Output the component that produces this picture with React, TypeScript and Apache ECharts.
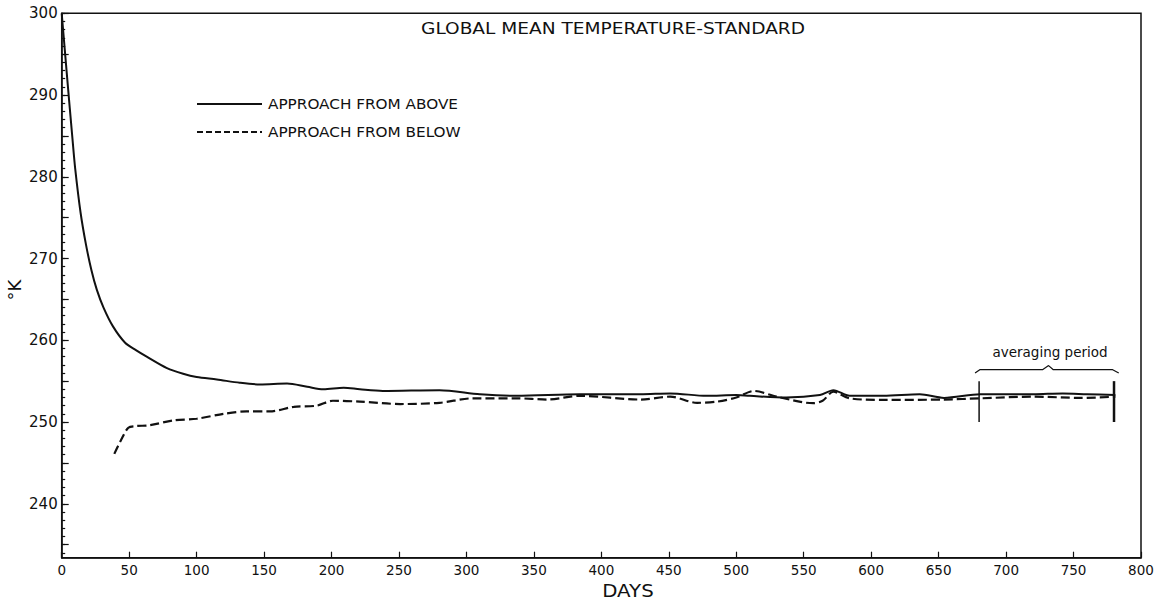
import React, { useEffect, useRef } from "react";
import * as echarts from "echarts";

// Approach from above (solid)
const aboveDays = [0, 4, 8, 10, 14, 18, 22, 26, 31, 38, 47, 55, 63, 78, 90, 100, 115, 132, 147, 167, 182, 194, 209, 221, 238, 280, 310, 337, 384, 429, 451, 478, 500, 510, 537, 562, 572, 584, 609, 636, 654, 681, 720, 742, 760, 781];
const aboveTemps = [300, 292.2, 284.6, 281, 275.6, 271.7, 268.6, 266.2, 264.0, 261.7, 259.7, 258.8, 258.0, 256.6, 255.9, 255.5, 255.2, 254.8, 254.6, 254.7, 254.3, 254.0, 254.2, 254.0, 253.8, 253.9, 253.4, 253.2, 253.4, 253.4, 253.5, 253.2, 253.3, 253.2, 253.0, 253.3, 253.9, 253.2, 253.2, 253.4, 252.95, 253.4, 253.4, 253.5, 253.4, 253.3];

// Approach from below (dashed)
const belowDays = [39, 44, 49.4, 55, 65, 83, 100, 120, 137, 154, 172, 189, 201, 221, 251, 280, 305, 337, 360, 384, 429, 451, 471, 486, 500, 513, 530, 557, 564, 572, 584, 609, 654, 681, 720, 756, 781];
const belowTemps = [246.1, 247.8, 249.3, 249.5, 249.6, 250.2, 250.4, 251.0, 251.3, 251.3, 251.85, 252.0, 252.6, 252.5, 252.2, 252.35, 252.9, 252.9, 252.75, 253.2, 252.75, 253.1, 252.35, 252.5, 253.0, 253.8, 253.1, 252.3, 252.6, 253.7, 252.9, 252.7, 252.75, 252.9, 253.1, 252.95, 253.1];

// Averaging period annotation
const avgStartDay = 680;
const avgEndDay = 780;
const avgMarkTemps = [255, 250];
const braceDays = [677, 680.5, 727, 731.5, 735, 779, 783.5];
const braceTemps = [256.0, 256.4, 256.4, 256.9, 256.4, 256.4, 256.0];

// Axis ticks
const yMin = 233.4;
const yMax = 300;
const yLabelValues = [240, 250, 260, 270, 280, 290, 300];
const yMajorTicks = [235, 240, 245, 250, 255, 260, 265, 270, 275, 280, 285, 290, 295, 300];
const yMinorTicks: number[] = [];
for (let v = 234; v <= 300; v++) yMinorTicks.push(v);

const legendNames = ["APPROACH FROM ABOVE", "APPROACH FROM BELOW"];

const FONT = "DejaVu Sans";
const INK = "#111";

const zip = (xs: number[], ys: number[]) => xs.map((x, i) => [x, ys[i]]);

export default function App() {
  const ref = useRef<HTMLDivElement>(null);
  useEffect(() => {
    document.body.style.margin = "0";
    const chart = echarts.init(ref.current!, null, { renderer: "svg" });
    chart.setOption({
      animation: false,
      backgroundColor: "#fff",
      textStyle: { fontFamily: FONT, color: INK },
      grid: {
        left: 61.7,
        right: 20,
        top: 13.3,
        bottom: 45.3,
        show: true,
        borderColor: INK,
        borderWidth: 1.5,
      },
      xAxis: {
        type: "value",
        min: 0,
        max: 800,
        interval: 50,
        axisLine: { show: true, lineStyle: { color: INK, width: 1.5 } },
        axisTick: { show: true, inside: true, length: 6, lineStyle: { color: INK, width: 1.2 } },
        axisLabel: { fontFamily: FONT, fontSize: 13.5, color: INK, margin: 5 },
        splitLine: { show: false },
      },
      yAxis: [
        {
          type: "value",
          min: yMin,
          max: yMax,
          axisLine: { show: true, lineStyle: { color: INK, width: 1.5 } },
          axisTick: { show: true, inside: true, length: 3.5, customValues: yMinorTicks, lineStyle: { color: INK, width: 1.2 } },
          axisLabel: { show: false },
          splitLine: { show: false },
        },
        {
          type: "value",
          min: yMin,
          max: yMax,
          position: "left",
          axisLine: { show: false },
          axisTick: { show: true, inside: true, length: 7, customValues: yMajorTicks, lineStyle: { color: INK, width: 1.2 } },
          axisLabel: { customValues: yLabelValues, fontFamily: FONT, fontSize: 15, color: INK, margin: 4 },
          splitLine: { show: false },
        },
      ],
      series: [
        {
          name: legendNames[0],
          type: "line",
          data: zip(aboveDays, aboveTemps),
          showSymbol: false,
          symbol: "none",
          smooth: 0.3,
          lineStyle: { color: INK, width: 2 },
        },
        {
          name: legendNames[1],
          type: "line",
          data: zip(belowDays, belowTemps),
          showSymbol: false,
          symbol: "none",
          smooth: 0.3,
          lineStyle: { color: INK, width: 2.2, type: [9, 4] },
        },
        {
          name: "avgStart",
          type: "line",
          data: avgMarkTemps.map((t) => [avgStartDay, t]),
          showSymbol: false,
          symbol: "none",
          lineStyle: { color: INK, width: 1.5 },
        },
        {
          name: "avgEnd",
          type: "line",
          data: avgMarkTemps.map((t) => [avgEndDay, t]),
          showSymbol: false,
          symbol: "none",
          lineStyle: { color: INK, width: 2.5 },
        },
        {
          name: "brace",
          type: "line",
          data: zip(braceDays, braceTemps),
          showSymbol: false,
          symbol: "none",
          lineStyle: { color: INK, width: 1.2 },
        },
      ],
      graphic: [
        {
          type: "text",
          x: 613,
          y: 28,
          scaleX: 1.16,
          style: {
            text: "GLOBAL MEAN TEMPERATURE-STANDARD",
            fontFamily: FONT,
            fontSize: 16,
            fill: INK,
            textAlign: "center",
            textVerticalAlign: "middle",
          },
        },
        {
          type: "line",
          shape: { x1: 197, y1: 104, x2: 262, y2: 104 },
          style: { stroke: INK, lineWidth: 2 },
        },
        {
          type: "line",
          shape: { x1: 197, y1: 132, x2: 262, y2: 132 },
          style: { stroke: INK, lineWidth: 2, lineDash: [6, 3] },
        },
        {
          type: "text",
          x: 268,
          y: 104,
          scaleX: 1.09,
          style: { text: legendNames[0], fontFamily: FONT, fontSize: 14, fill: INK, textAlign: "left", textVerticalAlign: "middle" },
        },
        {
          type: "text",
          x: 268,
          y: 132,
          scaleX: 1.09,
          style: { text: legendNames[1], fontFamily: FONT, fontSize: 14, fill: INK, textAlign: "left", textVerticalAlign: "middle" },
        },
        {
          type: "text",
          x: 628,
          y: 590,
          scaleX: 1.1,
          style: {
            text: "DAYS",
            fontFamily: FONT,
            fontSize: 18,
            fill: INK,
            textAlign: "center",
            textVerticalAlign: "middle",
          },
        },
        {
          type: "text",
          x: 14,
          y: 290,
          rotation: Math.PI / 2,
          style: {
            text: "°K",
            fontFamily: FONT,
            fontSize: 18,
            fill: INK,
            textAlign: "center",
            textVerticalAlign: "middle",
          },
        },
        {
          type: "text",
          x: 1050,
          y: 352,
          style: {
            text: "averaging period",
            fontFamily: FONT,
            fontSize: 13.5,
            fill: INK,
            textAlign: "center",
            textVerticalAlign: "middle",
          },
        },
      ],
    });
    return () => chart.dispose();
  }, []);
  return <div ref={ref} style={{ width: 1161, height: 603 }} />;
}
